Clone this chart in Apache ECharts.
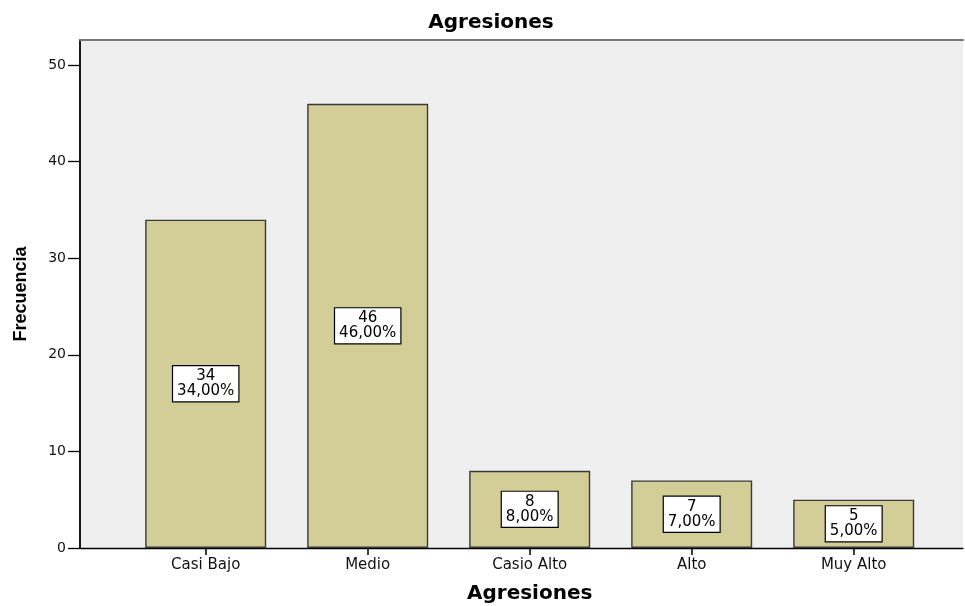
<!DOCTYPE html>
<html>
<head>
<meta charset="utf-8">
<script src="https://cdn.jsdelivr.net/npm/echarts@6/dist/echarts.min.js"></script>
<style>html,body{margin:0;padding:0;background:#fff}#c{width:965px;height:606px}</style>
</head>
<body>
<div id="c"></div>
<script>
const categories = ['Casi Bajo', 'Medio', 'Casio Alto', 'Alto', 'Muy Alto'];
const counts = [34, 46, 8, 7, 5];
const percents = ['34,00%', '46,00%', '8,00%', '7,00%', '5,00%'];
const yTicks = [0, 10, 20, 30, 40, 50];
const yMax = 52.6;

const font = 'DejaVu Sans, Verdana, sans-serif';
const chart = echarts.init(document.getElementById('c'), null, {renderer: 'canvas'});
chart.setOption({
  animation: false,
  backgroundColor: '#ffffff',
  title: {
    text: 'Agresiones', left: 486, top: 8, textAlign: 'center',
    textStyle: {fontFamily: font, fontSize: 20, fontWeight: 'bold', color: '#000'}
  },
  grid: [
    {left: 80, right: 2, top: 40, bottom: 58, show: true, backgroundColor: '#efefef', borderWidth: 0, outerBoundsMode: 'none', containLabel: false},
    {left: 124.7, width: 810, top: 40, bottom: 58, show: false, outerBoundsMode: 'none', containLabel: false}
  ],
  xAxis: [
    {gridIndex: 0, type: 'value', min: 0, max: 1, position: 'bottom',
     axisLine: {show: true, onZero: false, lineStyle: {color: '#000', width: 1.3}},
     axisTick: {show: false}, axisLabel: {show: false}, splitLine: {show: false}},
    {gridIndex: 0, type: 'value', min: 0, max: 1, position: 'top',
     axisLine: {show: true, onZero: false, lineStyle: {color: '#777', width: 2}},
     axisTick: {show: false}, axisLabel: {show: false}, splitLine: {show: false}},
    {gridIndex: 1, type: 'category', data: categories, position: 'bottom',
     axisLine: {show: false},
     axisTick: {show: true, alignWithLabel: true, length: 7, lineStyle: {color: '#000', width: 1.5}},
     axisLabel: {margin: 10, fontFamily: font, fontSize: 15, color: '#111'},
     name: 'Agresiones', nameLocation: 'middle', nameGap: 36,
     nameTextStyle: {fontFamily: font, fontSize: 20, fontWeight: 'bold', color: '#000'}}
  ],
  yAxis: [
    {gridIndex: 0, type: 'value', min: 0, max: yMax, interval: 10,
     axisLine: {show: true, onZero: false, lineStyle: {color: '#000', width: 1.8}},
     axisTick: {show: true, length: 12, customValues: yTicks, lineStyle: {color: '#000', width: 1.3}},
     axisLabel: {margin: 14, customValues: yTicks, fontFamily: font, fontSize: 14, color: '#111'},
     splitLine: {show: false},
     name: 'Frecuencia', nameLocation: 'middle', nameRotate: 90, nameGap: 50,
     nameTextStyle: {fontFamily: 'Liberation Sans, Arial, sans-serif', fontSize: 18, fontWeight: 'bold', color: '#000'}},
    {gridIndex: 1, type: 'value', min: 0, max: yMax, show: false}
  ],
  series: [{
    type: 'bar', xAxisIndex: 2, yAxisIndex: 1,
    data: counts, barWidth: 121,
    itemStyle: {color: '#d3ce97', borderColor: '#3a3a3a', borderWidth: 1.4},
    label: {
      show: true, position: 'inside',
      formatter: p => counts[p.dataIndex] + '\n' + percents[p.dataIndex],
      fontFamily: font, fontSize: 15, lineHeight: 15, color: '#000', align: 'center',
      backgroundColor: '#fff', borderColor: '#000', borderWidth: 1.2, padding: [3, 4, 2, 4]
    }
  }]
});
</script>
</body>
</html>
